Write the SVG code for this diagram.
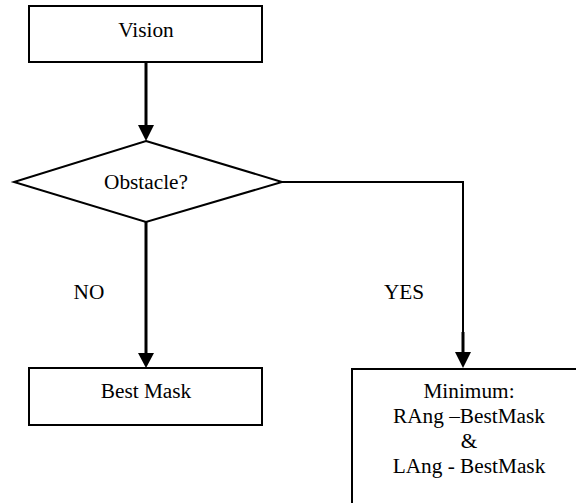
<svg xmlns="http://www.w3.org/2000/svg" width="576" height="503" viewBox="0 0 576 503">
<style>
.box{fill:#fff;stroke:#000;stroke-width:2}
.t{font-family:"Liberation Serif","Times New Roman",serif;font-size:21.3px;fill:#000;text-anchor:middle}
.c{fill:none;stroke:#000;stroke-width:2}
.ca{fill:none;stroke:#000;stroke-width:3}
.ah{fill:#000;stroke:none}
</style>
<rect width="576" height="503" fill="#fff"/>
<g id="vision">
<rect class="box" x="29" y="6" width="233" height="56"/>
<text class="t" x="146" y="37">Vision</text>
</g>
<g id="obstacle">
<polygon class="box" points="146,141 282,182 146,222 14,182"/>
<text class="t" x="146" y="189">Obstacle?</text>
</g>
<g id="bestmask">
<rect class="box" x="29" y="368" width="233" height="57"/>
<text class="t" x="146" y="398">Best Mask</text>
</g>
<g id="minimum">
<rect class="box" x="352" y="369" width="240" height="150"/>
<text class="t" x="469" y="398">Minimum:</text>
<text class="t" x="469" y="423">RAng –BestMask</text>
<text class="t" x="469" y="448">&amp;</text>
<text class="t" x="469" y="473">LAng - BestMask</text>
</g>
<g id="connectors">
<line class="ca" x1="146" y1="62" x2="146" y2="126"/>
<polygon class="ah" points="138,125 154,125 146,141"/>
<line class="ca" x1="146" y1="222" x2="146" y2="354"/>
<polygon class="ah" points="138,353 154,353 146,368"/>
<polyline class="c" points="282,182 463,182 463,333"/>
<line class="ca" x1="463" y1="332" x2="463" y2="353"/>
<polygon class="ah" points="455,352 471,352 463,368"/>
<text class="t" x="89" y="299">NO</text>
<text class="t" x="404" y="299">YES</text>
</g>
</svg>
